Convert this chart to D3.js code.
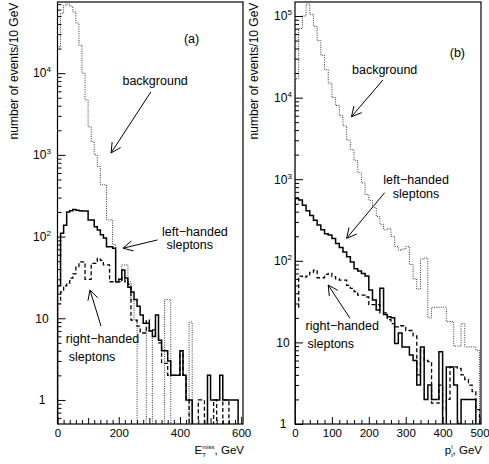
<!DOCTYPE html>
<html>
<head>
<meta charset="utf-8">
<script src="https://cdn.jsdelivr.net/npm/d3@7"></script>
<style>
  body { margin: 0; background: #fff; }
  svg { display: block; font-family: "Liberation Sans", Arial, Helvetica, sans-serif; }
</style>
</head>
<body>
<div id="chart"></div>
<script>
// every histogram uses 10 GeV bins starting at 0
var binWidth = 10;

// panel (a): missing transverse energy, 60 bins (0-600 GeV)
var etmissBackground = [21000, 54000, 68000, 70000, 66000, 56000, 41000, 22000, 10000, 4700,
  2200, 1450, 1000, 720, 430, 430, 160, 160, 80, 28,
  28, 45, 45, 28, 17, 9.5, 0, 0, 0, 7,
  7, 0, 0, 0, 0, 17, 17, 0, 0, 0,
  0, 0, 0, 9, 0, 0, 0, 0, 0, 0,
  0, 0, 0, 0, 0, 0, 0, 0, 0, 0];
var etmissLeftHanded = [25, 110, 138, 200, 207, 215, 210, 207, 205, 205,
  160, 160, 132, 120, 105, 96, 75, 75, 72, 28,
  30, 39, 31, 24, 21, 17, 14, 11, 8.7, 8.7,
  7, 6, 11, 5.4, 4, 4, 3, 2, 2, 2,
  4, 2, 1, 1, 0, 0, 0, 0, 0, 2,
  1, 1, 1, 2, 1, 1, 1, 1, 1, 0];
var etmissRightHanded = [15, 21, 25, 27, 31, 35, 43, 49, 49, 30,
  30, 47, 47, 54, 51, 45, 45, 28, 28, 28,
  28, 31, 28, 26, 9.5, 9.5, 8, 6.6, 6.6, 9.5,
  7.2, 7.2, 6, 5, 2.8, 2.8, 2, 2, 2, 2,
  4, 2, 1, 0, 0, 0, 1, 1, 0, 0,
  0, 1, 0, 0, 1, 1, 0, 0, 0, 0];

// panel (b): lepton transverse momentum, 50 bins (0-500 GeV)
var ptBackground = [17000, 70000, 100000, 140000, 105000, 75000, 50000, 33000, 22000, 15000,
  10000, 8000, 6000, 4500, 3000, 2300, 1700, 1200, 900, 650,
  550, 450, 350, 280, 240, 250, 200, 150, 135, 140,
  150, 90, 60, 45, 105, 108, 20, 27, 27, 27,
  27, 18, 18, 9, 9, 17, 8.8, 8.8, 8.8, 8];
var ptLeftHanded = [580, 556, 480, 410, 360, 315, 275, 240, 215, 207,
  188, 163, 146, 128, 112, 97, 80, 75, 70, 65,
  44, 33, 25, 46, 22, 20.6, 20, 9.7, 13, 8.8,
  8.8, 7, 6, 3, 8.8, 2, 3, 2, 2, 7.7,
  0, 5, 5, 3, 1, 2, 2, 2, 2, 0];
var ptRightHanded = [27, 65, 63, 65, 72, 77, 62, 62, 68, 70,
  64, 60, 58, 58, 50, 46, 42, 38, 38, 36,
  29, 29, 29, 23, 23, 19, 17, 15.5, 16, 16,
  14, 14, 12, 4, 8, 6, 5.8, 1.8, 1.8, 3,
  1.5, 2, 5, 5, 4.8, 4, 3.5, 3, 2.5, 1.5];

// tick labels
var etmissTicks = [0, 200, 400, 600];
var ptTicks = [0, 100, 200, 300, 400, 500];
var etmissDecades = [1, 10, 100, 1000, 10000];
var ptDecades = [1, 10, 100, 1000, 10000, 100000];

var width = 489, height = 464;

var svg = d3.select("#chart")
    .append("svg")
    .attr("width", width)
    .attr("height", height);

var styles = {
    background: { width: 1, dash: "1,1.3", color: "#333" },
    left: { width: 1.5, dash: null, color: "#000" },
    right: { width: 1.3, dash: "4,2.5", color: "#000" }
};

var panels = [
    {
        name: "a", left: 57.5, right: 243, top: 2, bottom: 424,
        xDomain: [0, 606], yDomain: [0.508, 74300],
        labelX: 42, titleX: 18,
        xTicks: etmissTicks, decades: etmissDecades,
        series: [
            { values: etmissBackground, style: styles.background },
            { values: etmissLeftHanded, style: styles.left },
            { values: etmissRightHanded, style: styles.right }
        ],
        xTitle: ["E", "T", "miss"],
        // annotation positions in data coordinates [GeV, events]
        texts: [
            { t: "(a)", at: [438, 23400] },
            { t: "background", at: [319, 7170] },
            { t: "left\u2212handed", at: [449, 103] },
            { t: "sleptons", at: [432, 69.5] },
            { t: "right\u2212handed", at: [147, 5.0] },
            { t: "sleptons", at: [113, 3.0] }
        ],
        arrows: [
            { from: [305, 5890], to: [175, 1055] },
            { from: [327, 91], to: [214, 72] },
            { from: [142, 8.05], to: [106, 22.2] }
        ]
    },
    {
        name: "b", left: 295, right: 481, top: 2, bottom: 424,
        xDomain: [0, 504], yDomain: [1, 148500],
        labelX: 283, titleX: 258,
        xTicks: ptTicks, decades: ptDecades,
        series: [
            { values: ptBackground, style: styles.background },
            { values: ptLeftHanded, style: styles.left },
            { values: ptRightHanded, style: styles.right }
        ],
        xTitle: ["p", "t", "l"],
        texts: [
            { t: "(b)", at: [440, 31900] },
            { t: "background", at: [243, 19500] },
            { t: "left\u2212handed", at: [328, 873] },
            { t: "sleptons", at: [328, 589] },
            { t: "right\u2212handed", at: [128, 14.0] },
            { t: "sleptons", at: [97, 8.5] }
        ],
        arrows: [
            { from: [238, 16400], to: [153, 5830] },
            { from: [243, 684], to: [140, 189] },
            { from: [149, 19.7], to: [90, 50.5] }
        ]
    }
];

panels.forEach(drawPanel);

function drawPanel(p) {
    var x = d3.scaleLinear().domain(p.xDomain).range([p.left, p.right]);
    var y = d3.scaleLog().domain(p.yDomain).range([p.bottom, p.top]);
    var g = svg.append("g");

    var clipId = "clip-" + p.name;
    svg.append("clipPath").attr("id", clipId)
        .append("rect")
        .attr("x", p.left).attr("y", p.top)
        .attr("width", p.right - p.left).attr("height", p.bottom - p.top);

    //histograms as step outlines, empty bins drop below the frame
    var floor = p.yDomain[0] / 10;
    function steps(values) {
        var pts = [[0, floor]];
        values.forEach(function(v, i) {
            var h = v > 0 ? v : floor;
            pts.push([i * binWidth, h], [(i + 1) * binWidth, h]);
        });
        pts.push([values.length * binWidth, floor]);
        return pts;
    }
    var line = d3.line()
        .x(function(d) { return x(d[0]) })
        .y(function(d) { return y(d[1]) });

    p.series.forEach(function(s) {
        g.append("path")
            .attr("clip-path", "url(#" + clipId + ")")
            .attr("d", line(steps(s.values)))
            .attr("fill", "none")
            .attr("stroke", s.style.color)
            .attr("stroke-width", s.style.width)
            .attr("stroke-dasharray", s.style.dash);
    });

    //y axis: ticks drawn inside the frame
    var minors = [];
    var lo = Math.floor(Math.log10(p.yDomain[0])), hi = Math.ceil(Math.log10(p.yDomain[1]));
    for (var e = lo; e < hi; e++) {
        for (var k = 2; k < 10; k++) {
            var v = k * Math.pow(10, e);
            if (v > p.yDomain[0] && v < p.yDomain[1]) minors.push(v);
        }
    }
    var yMinor = g.append("g").attr("transform", "translate(" + p.left + ",0)")
        .call(d3.axisLeft(y).tickValues(minors).tickSizeInner(-4).tickSizeOuter(0).tickFormat(""));
    var yMajor = g.append("g").attr("transform", "translate(" + p.left + ",0)")
        .call(d3.axisLeft(y).tickValues(p.decades).tickSizeInner(-8).tickSizeOuter(0).tickFormat(""));
    yMinor.select(".domain").remove();
    yMajor.select(".domain").remove();

    p.decades.forEach(function(d) {
        var exp = Math.round(Math.log10(d));
        var t = g.append("text")
            .attr("x", p.labelX)
            .attr("y", y(d))
            .attr("dy", "0.36em")
            .attr("text-anchor", "middle")
            .attr("font-size", 12);
        if (exp < 2) {
            t.text(d);
        } else {
            t.append("tspan").text("10");
            t.append("tspan").attr("dy", -5).attr("font-size", 8).text(exp);
        }
    });

    //x axis: labelled, hundreds and 20 GeV ticks
    var xMinor = d3.range(0, p.xDomain[1] + 1, 20).filter(function(d) { return d % 100 });
    var xMid = d3.range(0, p.xDomain[1] + 1, 100).filter(function(d) { return p.xTicks.indexOf(d) < 0 });
    [[xMinor, -4], [xMid, -6]].forEach(function(set) {
        g.append("g").attr("transform", "translate(0," + p.bottom + ")")
            .call(d3.axisBottom(x).tickValues(set[0]).tickSizeInner(set[1]).tickSizeOuter(0).tickFormat(""))
            .select(".domain").remove();
    });
    var xAxis = g.append("g").attr("transform", "translate(0," + p.bottom + ")")
        .call(d3.axisBottom(x).tickValues(p.xTicks).tickSizeInner(-7).tickSizeOuter(0).tickPadding(4.5));
    xAxis.select(".domain").remove();
    xAxis.selectAll("text").attr("font-size", 11.5).attr("font-family", null);
    g.selectAll(".tick line").attr("stroke", "#000");

    //frame
    g.append("rect")
        .attr("x", p.left).attr("y", p.top)
        .attr("width", p.right - p.left).attr("height", p.bottom - p.top)
        .attr("fill", "none").attr("stroke", "#000").attr("stroke-width", 1.2);

    //axis titles
    g.append("text")
        .attr("transform", "translate(" + p.titleX + ",71) rotate(-90)")
        .attr("text-anchor", "middle")
        .attr("font-size", 12)
        .text("number of events/10 GeV");

    //x title: symbol with subscript and superscript stacked above it
    var xt = g.append("text")
        .attr("x", p.right + 1)
        .attr("y", 454)
        .attr("text-anchor", "end")
        .attr("font-size", 11.5);
    xt.append("tspan").text(p.xTitle[0]);
    var sub = xt.append("tspan").attr("dy", 2.5).attr("font-size", 6).text(p.xTitle[1]);
    var subWidth = sub.node().getComputedTextLength();
    xt.append("tspan").attr("dx", -subWidth).attr("dy", -7.5).attr("font-size", 6).text(p.xTitle[2]);
    xt.append("tspan").attr("dy", 5).text(", GeV");

    //labels and arrows
    p.texts.forEach(function(a) {
        g.append("text")
            .attr("x", x(a.at[0]))
            .attr("y", y(a.at[1]))
            .attr("text-anchor", "middle")
            .attr("font-size", 12.5)
            .text(a.t);
    });

    p.arrows.forEach(function(a) {
        var x1 = x(a.from[0]), y1 = y(a.from[1]), x2 = x(a.to[0]), y2 = y(a.to[1]);
        var ang = Math.atan2(y1 - y2, x1 - x2), len = 11, spread = 0.48;
        var path = d3.path();
        path.moveTo(x1, y1);
        path.lineTo(x2, y2);
        path.moveTo(x2 + len * Math.cos(ang - spread), y2 + len * Math.sin(ang - spread));
        path.lineTo(x2, y2);
        path.lineTo(x2 + len * Math.cos(ang + spread), y2 + len * Math.sin(ang + spread));
        g.append("path")
            .attr("d", path.toString())
            .attr("fill", "none")
            .attr("stroke", "#000")
            .attr("stroke-width", 1);
    });
}
</script>
</body>
</html>
